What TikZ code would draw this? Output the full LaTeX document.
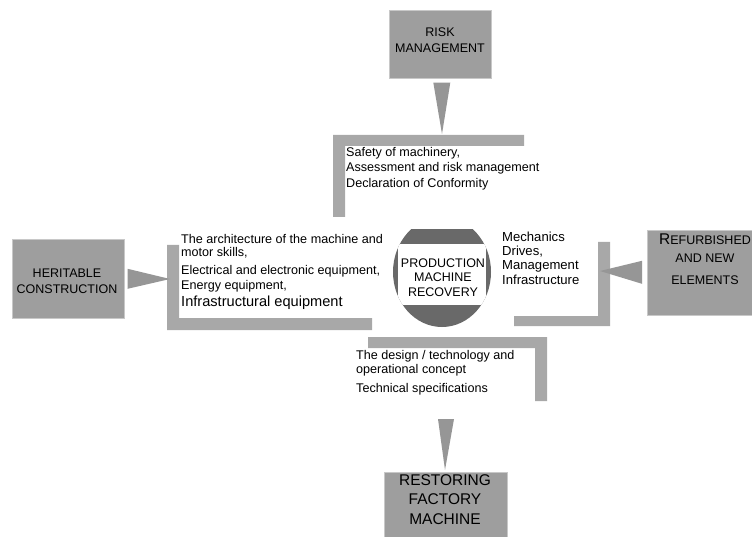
\documentclass[tikz,border=0pt]{standalone}
\usepackage{fontspec}
\setmainfont{Liberation Sans}
\usetikzlibrary{calc}
\definecolor{boxgray}{RGB}{158,158,158}
\definecolor{bargray}{RGB}{168,168,168}
\definecolor{trigray}{RGB}{150,150,150}
\definecolor{ellgray}{RGB}{105,105,105}
\definecolor{edgegray}{RGB}{200,200,200}
\tikzset{
  box/.style={draw=edgegray, fill=boxgray, line width=0.6pt, inner sep=0pt, anchor=north west},
  bar/.style={fill=bargray},
  tri/.style={fill=trigray},
  txt/.style={anchor=base west, inner sep=0pt, font=\fontsize{12.6}{14}\selectfont},
  rtxtb/.style={anchor=base west, inner sep=0pt, font=\fontsize{13.1}{14}\selectfont},
  bigtxt/.style={anchor=base west, inner sep=0pt, font=\fontsize{14.6}{16}\selectfont},
  btxt/.style={anchor=base, inner sep=0pt, font=\fontsize{12.5}{14}\selectfont},
  rtxt/.style={anchor=base, inner sep=0pt, font=\fontsize{15.5}{18}\selectfont},
}
\begin{document}
\begin{tikzpicture}[x=1pt,y=-1pt]
\useasboundingbox (0,0) rectangle (752,537);
\fill[white] (0,0) rectangle (752,537);

% boxes
\node[box, minimum width=102pt, minimum height=68pt] (risk) at (389,10) {};
\node[box, minimum width=112pt, minimum height=79pt] (herit) at (12,239) {};
\node[box, minimum width=112pt, minimum height=85pt] (refurb) at (647,230) {};
\node[box, minimum width=123pt, minimum height=70pt] (restore) at (384,472) {};

% brackets
\fill[bar] (333,135) -- (524,135) -- (524,146) -- (345,146) -- (345,217) -- (333,217) -- cycle;
\fill[bar] (167,245) -- (179,245) -- (179,318) -- (372,318) -- (372,330) -- (167,330) -- cycle;
\fill[bar] (598,242) -- (610,242) -- (610,326) -- (514,326) -- (514,316) -- (598,316) -- cycle;
\fill[bar] (368,337) -- (547,337) -- (547,401) -- (535,401) -- (535,348) -- (368,348) -- cycle;

% connector tips
\coordinate (topTip) at (442,134);
\coordinate (leftTip) at (170,279);
\coordinate (rightTip) at (600,271);
\coordinate (botTip) at (445,470);

% triangular connectors
\fill[tri] ($(risk.south)+(-7,4)$) -- ($(risk.south)+(10,4)$) -- (topTip) -- cycle;
\fill[tri] ($(herit.east)+(3,-10)$) -- ($(herit.east)+(3,10)$) -- (leftTip) -- cycle;
\fill[tri] ($(refurb.west)+(-5,-12)$) -- ($(refurb.west)+(-5,11)$) -- (rightTip) -- cycle;
\fill[tri] (438,419) -- (454,419) -- (botTip) -- cycle;

% central ellipse
\begin{scope}
  \clip (380,230) rectangle (505,340);
  \fill[ellgray] (442,272) ellipse [x radius=49pt, y radius=55pt];
\end{scope}
\begin{scope}
  \clip (442,272) ellipse [x radius=49pt, y radius=55pt];
  \fill[white] (398,244) rectangle (486,305);
\end{scope}

% box texts
\node[btxt] (r1) at (440,37) {RISK};
\node[btxt] (r2) at (440,53) {MANAGEMENT};
\node[btxt] (h1) at (67,278) {HERITABLE};
\node[btxt] (h2) at (67,294) {CONSTRUCTION};
\node[btxt] (p1) at (443,268) {PRODUCTION};
\node[btxt] (p2) at (443,282) {MACHINE};
\node[btxt] (p3) at (443,297) {RECOVERY};
\node[btxt] (f1) at (705,245) {{\fontsize{15.5}{15}\selectfont R}EFURBISHED};
\node[btxt] (f2) at (705,263) {AND NEW};
\node[btxt] (f3) at (705,284) {ELEMENTS};
\node[rtxt] (s1) at (445,485) {RESTORING};
\node[rtxt] (s2) at (445,504) {FACTORY};
\node[rtxt] (s3) at (445,524) {MACHINE};

% bracket texts
\node[txt] (a1) at (346,157) {Safety of machinery,};
\node[txt] (a2) at (346,172) {Assessment and risk management};
\node[txt] (a3) at (346,188) {Declaration of Conformity};

\node[txt] (b1) at (181,244) {The architecture of the machine and};
\node[txt] (b2) at (181,257) {motor skills,};
\node[txt] (b3) at (181,275) {Electrical and electronic equipment,};
\node[txt] (b4) at (181,290) {Energy equipment,};
\node[bigtxt] (b5) at (181,306) {Infrastructural equipment};

\node[rtxtb] (c1) at (502,242) {Mechanics};
\node[rtxtb] (c2) at (502,256) {Drives,};
\node[rtxtb] (c3) at (502,270) {Management};
\node[rtxtb] (c4) at (502,285) {Infrastructure};

\node[txt] (d1) at (356,359) {The design / technology and};
\node[txt] (d2) at (356,373) {operational concept};
\node[txt] (d3) at (356,392) {Technical specifications};
\end{tikzpicture}
\end{document}
